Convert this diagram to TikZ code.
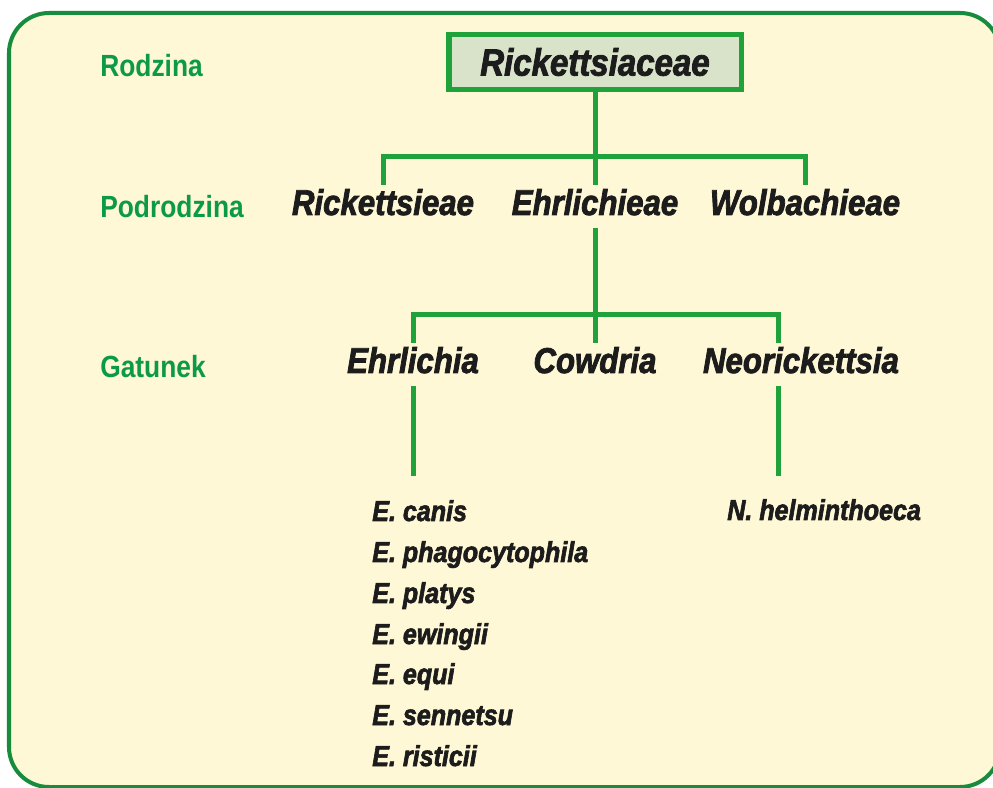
\documentclass[tikz,border=0pt]{standalone}
\usepackage{fontspec}
\setmainfont{Liberation Sans}[FakeStretch=0.86]
\newfontfamily\taxonfont{Liberation Sans}[FakeStretch=0.87,FakeBold=2.2]
\usetikzlibrary{positioning}
\definecolor{paperFill}{HTML}{FFF8D6}
\definecolor{frameStroke}{HTML}{178C3C}
\definecolor{rankInk}{HTML}{0C9A45}
\definecolor{treeStroke}{HTML}{1FA23A}
\definecolor{familyFill}{HTML}{D8E3CA}
\definecolor{taxonInk}{HTML}{1C1C1C}

\begin{document}
\begin{tikzpicture}[x=0.25mm,y=-0.25mm,
  rank/.style={anchor=base west,inner sep=0pt,text=rankInk,font=\fontsize{21.8}{25}\selectfont\bfseries},
  family/.style={rectangle,draw=treeStroke,line width=1.25mm,fill=familyFill,minimum width=73mm,minimum height=13.75mm,inner sep=0pt,text=taxonInk,font=\taxonfont\fontsize{27}{31}\selectfont\bfseries\itshape},
  taxon/.style={anchor=base,inner sep=0pt,outer sep=1mm,text depth=2.25mm,text=taxonInk,font=\taxonfont\fontsize{25.5}{29}\selectfont\bfseries\itshape},
  species/.style={anchor=base west,inner sep=0pt,text=taxonInk,font=\taxonfont\fontsize{20.5}{24}\selectfont\bfseries\itshape},
  link/.style={draw=treeStroke,line width=1.25mm}
]
\fill[white] (0,0) rectangle (993,788);
\useasboundingbox (0,0) rectangle (993,788);
\draw[fill=paperFill,draw=frameStroke,line width=1mm,rounded corners=10mm] (9,13) rectangle (1000,787);
% rank names on the left
\node[rank] (rodzina) at (100,77) {Rodzina};
\node[rank] (podrodzina) at (100,218) {Podrodzina};
\node[rank] (gatunek) at (100,378) {Gatunek};
% family, subfamilies, genera
\node[family] (family) at (595,62) {Rickettsiaceae};
\node[taxon] (rickettsieae) at (383,215) {Rickettsieae};
\node[taxon] (ehrlichieae) at (595,215) {Ehrlichieae};
\node[taxon] (wolbachieae) at (805,215) {Wolbachieae};
\node[taxon] (ehrlichia) at (413,373) {Ehrlichia};
\node[taxon] (cowdria) at (595,373) {Cowdria};
\node[taxon] (neorickettsia) at (801,373) {Neorickettsia};
\coordinate (subBar) at (595,157);
\coordinate (genBar) at (595,315);
\coordinate (ehrlDrop) at (413,476);
\coordinate (neoDrop) at (778,476);
\draw[link] (family.south) -- (subBar);
\draw[link] (rickettsieae.north) |- (subBar) -| (wolbachieae.north);
\draw[link] (subBar) -- (ehrlichieae.north);
\draw[link] (ehrlichieae.south) -- (genBar);
\draw[link] (ehrlichia.north) |- (genBar) -| (neoDrop |- neorickettsia.north);
\draw[link] (genBar) -- (cowdria.north);
\draw[link] (ehrlichia.south) -- (ehrlDrop);
\draw[link] (neoDrop |- neorickettsia.south) -- (neoDrop);
% species
\node[species] (canis) at (372,521) {E. canis};
\node[species] (phago) at (372,562) {E. phagocytophila};
\node[species] (platys) at (372,603) {E. platys};
\node[species] (ewingii) at (372,644) {E. ewingii};
\node[species] (equi) at (372,684) {E. equi};
\node[species] (sennetsu) at (372,725) {E. sennetsu};
\node[species] (risticii) at (372,766) {E. risticii};
\node[species] (helmin) at (727,520) {N. helminthoeca};
\end{tikzpicture}
\end{document}
